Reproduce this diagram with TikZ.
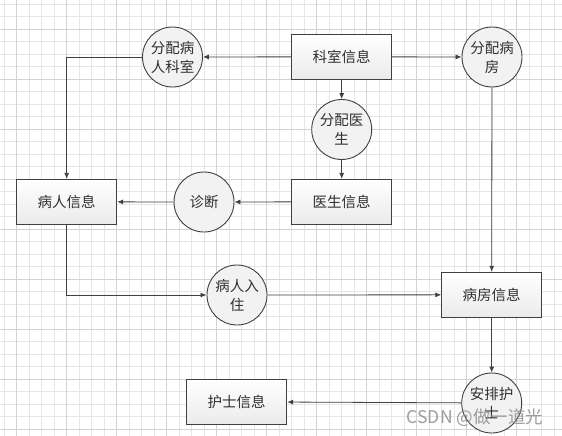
\documentclass[tikz,border=0pt]{standalone}
\usepackage{fontspec}
\setmainfont{Noto Sans CJK SC}
\usetikzlibrary{arrows.meta,calc}
\definecolor{edgecol}{HTML}{404040}
\definecolor{txtcol}{HTML}{303030}
\definecolor{gridminor}{HTML}{E6E6E6}
\definecolor{gridmajor}{HTML}{D2D2D2}
\tikzset{
  every node/.style={font=\fontsize{14.5}{19}\selectfont, text=txtcol},
  infobox/.style={draw=edgecol, line width=0.9pt, minimum width=100pt, minimum height=45pt,
    top color=white, bottom color=black!8, inner sep=0pt},
  proc/.style={circle, draw=edgecol, line width=0.9pt, minimum size=60pt, inner sep=0pt,
    fill=black!5, align=center},
  flow/.style={draw=edgecol, line width=0.8pt, -{Latex[length=6pt,width=5pt]}},
}
\begin{document}
\begin{tikzpicture}[x=1pt,y=-1pt]
\useasboundingbox (0,0) rectangle (562,436);
\fill[white] (0,0) rectangle (562,436);
% grid
\foreach \k in {0,...,44} {
  \pgfmathsetmacro{\xx}{4.2+12.5*\k}
  \draw[gridminor, line width=0.8pt] (\xx,0) -- (\xx,436);
}
\foreach \k in {0,...,34} {
  \pgfmathsetmacro{\yy}{4.3+12.5*\k}
  \draw[gridminor, line width=0.8pt] (0,\yy) -- (562,\yy);
}
\foreach \k in {0,...,10} {
  \pgfmathsetmacro{\xx}{16.7+50*\k}
  \draw[gridmajor, line width=0.9pt] (\xx,0) -- (\xx,436);
}
\foreach \k in {0,...,8} {
  \pgfmathsetmacro{\yy}{29.3+50*\k}
  \draw[gridmajor, line width=0.9pt] (0,\yy) -- (562,\yy);
}

% nodes
\node[infobox] (ks) at (341.7,56.8) {科室信息};
\node[proc] (fpks) at (172.5,57) {分配病\\人科室};
\node[proc] (fpbf) at (492,57) {分配病\\房};
\node[proc] (fpys) at (341.7,129.5) {分配医\\生};
\node[infobox] (br) at (66.7,201.8) {病人信息};
\node[proc] (zd) at (204,202) {诊断};
\node[infobox] (ys) at (341.7,201.8) {医生信息};
\node[proc] (brrz) at (237,295) {病人入\\住};
\node[infobox] (bf) at (491.7,294.8) {病房信息};
\node[proc] (apfs) at (491.7,403) {安排护\\士};
\node[infobox] (hs) at (236.7,401.8) {护士信息};

% connectors
\draw[flow] (ks) -- (fpks);
\draw[flow] (ks) -- (fpbf);
\draw[flow] (ks) -- (fpys);
\draw[flow] (fpys) -- (ys);
\draw[flow] (ys) -- (zd);
\draw[flow] (zd) -- (br);
\draw[flow] (fpks.west) -| (br.north);
\draw[flow] (br.south) |- (brrz.west);
\draw[flow] (brrz) -- (bf);
\draw[flow] (fpbf) -- (bf);
\draw[flow] (bf) -- (apfs);
\draw[flow] (apfs) -- (hs);

% watermark
\node[font=\fontsize{17.5}{20}\selectfont, text=black!45, opacity=0.85, anchor=center, inner sep=0pt] (wm) at (475,418) {CSDN @做一道光};
\end{tikzpicture}
\end{document}
